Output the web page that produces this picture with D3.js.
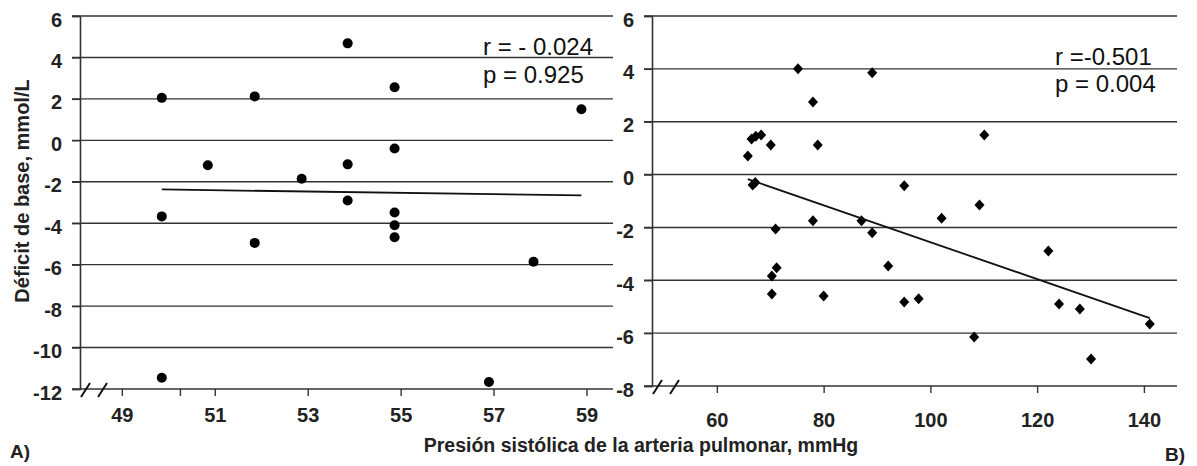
<!DOCTYPE html>
<html>
<head>
<meta charset="utf-8">
<script src="https://cdn.jsdelivr.net/npm/d3@7"></script>
<style>
  body { margin: 0; background: #fff; }
  text { font-family: Arial, "Liberation Sans", sans-serif; }
</style>
</head>
<body>
<div id="chart"></div>
<script>
// panel A: circles
let xA_vals = [49.86, 49.86, 49.86, 50.85, 51.86, 51.86, 52.87, 53.86, 53.86, 53.86,
               54.87, 54.87, 54.87, 54.87, 54.87, 56.9, 57.86, 58.89];
let yA_vals = [2.05, -3.67, -11.46, -1.2, 2.12, -4.95, -1.85, 4.68, -1.16, -2.9,
               2.56, -0.39, -3.48, -4.1, -4.68, -11.66, -5.86, 1.5];
let trendA = [[49.86, -2.37], [58.89, -2.66]];
let xTicksA = [49, 51, 53, 55, 57, 59];
let yTicksA = [6, 4, 2, 0, -2, -4, -6, -8, -10, -12];

// panel B: diamonds
let xB_vals = [65.8, 66.5, 67.3, 68.3, 70.1, 75.2, 78.0, 78.9, 89.1, 66.7, 67.2, 95.1,
               71.0, 78.0, 87.1, 89.1, 70.3, 71.2, 70.3, 80.0, 92.1, 95.1, 97.8,
               110.1, 109.2, 102.1, 108.2, 122.1, 124.1, 128.0, 130.1, 141.1];
let yB_vals = [0.7, 1.35, 1.45, 1.5, 1.12, 4.0, 2.75, 1.12, 3.85, -0.39, -0.3, -0.42,
               -2.06, -1.75, -1.75, -2.2, -3.84, -3.53, -4.52, -4.59, -3.46, -4.82, -4.7,
               1.5, -1.15, -1.65, -6.15, -2.89, -4.9, -5.09, -6.98, -5.65];
let trendB = [[65.8, -0.17], [141.1, -5.43]];
let xTicksB = [60, 80, 100, 120, 140];
let yTicksB = [6, 4, 2, 0, -2, -4, -6, -8];

let svg = d3.select("#chart").append("svg")
  .attr("width", 1197)
  .attr("height", 466);

let gridColor = "#333";

let xA = d3.scaleLinear().domain([48.1, 59.57]).range([80, 613]);
let yA = d3.scaleLinear().domain([-12, 6]).range([389, 16]);
let xB = d3.scaleLinear().domain([47.85, 146.2]).range([652, 1177]);
let yB = d3.scaleLinear().domain([-8, 6]).range([386, 16]);

function panel(x, y, xTicks, yTicks, extraTicks, labelDy) {
  let g = svg.append("g");
  let x0 = x.range()[0], x1 = x.range()[1];

  // horizontal grid lines
  g.selectAll("line.grid")
    .data(yTicks)
    .enter().append("line")
    .attr("x1", x0 - 8)
    .attr("x2", x1)
    .attr("y1", d => y(d))
    .attr("y2", d => y(d))
    .attr("stroke", gridColor)
    .attr("stroke-width", 1.4);

  // y axis
  let yAxis = d3.axisLeft(y).tickValues(yTicks).tickSize(8).tickPadding(10)
    .tickFormat(d => String(d));
  let ya = g.append("g")
    .attr("transform", "translate(" + x0 + ",0)")
    .call(yAxis);
  ya.select(".domain").attr("stroke", gridColor).attr("stroke-width", 1.6);
  ya.selectAll(".tick line").attr("stroke", gridColor).attr("stroke-width", 1.4);
  ya.selectAll("text")
    .attr("font-size", 20)
    .attr("font-weight", "bold")
    .attr("fill", "#222")
    .attr("dy", "0.5em");

  // x axis
  let xAxis = d3.axisBottom(x).tickValues(xTicks.concat(extraTicks))
    .tickSize(7).tickSizeOuter(0)
    .tickFormat(d => xTicks.includes(d) ? String(d) : "");
  let xa = g.append("g")
    .attr("transform", "translate(0," + y.range()[0] + ")")
    .call(xAxis);
  xa.select(".domain").remove();
  xa.selectAll(".tick line").attr("stroke", gridColor).attr("stroke-width", 1.4);
  xa.selectAll("text")
    .attr("font-size", 20)
    .attr("font-weight", "bold")
    .attr("fill", "#222")
    .attr("y", labelDy)
    .attr("dy", 0);

  // axis break marks
  let by = y.range()[0];
  g.selectAll("line.brk")
    .data([x0 + 1, x0 + 18])
    .enter().append("line")
    .attr("x1", d => d)
    .attr("y1", by + 8)
    .attr("x2", d => d + 9)
    .attr("y2", by - 6)
    .attr("stroke", "#111")
    .attr("stroke-width", 2);

  return g;
}

let gA = panel(xA, yA, xTicksA, yTicksA, [50.25], 33);
let gB = panel(xB, yB, xTicksB, yTicksB, [], 41);

// points A
gA.selectAll("circle")
  .data(xA_vals)
  .enter().append("circle")
  .attr("cx", d => xA(d))
  .attr("cy", (d, i) => yA(yA_vals[i]))
  .attr("r", 5)
  .attr("fill", "#000");

// points B (near-square diamond)
let diamond = "M0,-5.5L5,0L0,5.5L-5,0Z";
gB.selectAll("path.pt")
  .data(xB_vals)
  .enter().append("path")
  .attr("class", "pt")
  .attr("d", diamond)
  .attr("transform", (d, i) => "translate(" + xB(d) + "," + yB(yB_vals[i]) + ")")
  .attr("fill", "#000");

// trend lines
let lineA = d3.line().x(d => xA(d[0])).y(d => yA(d[1]));
let lineB = d3.line().x(d => xB(d[0])).y(d => yB(d[1]));
gA.append("path").attr("d", lineA(trendA)).attr("stroke", "#111").attr("stroke-width", 1.8).attr("fill", "none");
gB.append("path").attr("d", lineB(trendB)).attr("stroke", "#111").attr("stroke-width", 1.8).attr("fill", "none");

// statistics
svg.append("text").attr("x", 483).attr("y", 55).attr("font-size", 24).attr("fill", "#111").text("r = - 0.024");
svg.append("text").attr("x", 483).attr("y", 83).attr("font-size", 24).attr("fill", "#111").text("p = 0.925");
svg.append("text").attr("x", 1055).attr("y", 65).attr("font-size", 24).attr("fill", "#111").text("r =-0.501");
svg.append("text").attr("x", 1055).attr("y", 92).attr("font-size", 24).attr("fill", "#111").text("p = 0.004");

// axis titles
svg.append("text")
  .attr("transform", "translate(29,191) rotate(-90)")
  .attr("text-anchor", "middle")
  .attr("font-size", 20)
  .attr("font-weight", "bold")
  .attr("fill", "#222")
  .text("Déficit de base, mmol/L");

svg.append("text")
  .attr("x", 641)
  .attr("y", 452)
  .attr("text-anchor", "middle")
  .attr("font-size", 19.5)
  .attr("font-weight", "bold")
  .attr("fill", "#222")
  .text("Presión sistólica de la arteria pulmonar, mmHg");

svg.append("text").attr("x", 10).attr("y", 458).attr("font-size", 19).attr("font-weight", "bold").attr("fill", "#222").text("A)");
svg.append("text").attr("x", 1165).attr("y", 461).attr("font-size", 19).attr("font-weight", "bold").attr("fill", "#222").text("B)");
</script>
</body>
</html>
